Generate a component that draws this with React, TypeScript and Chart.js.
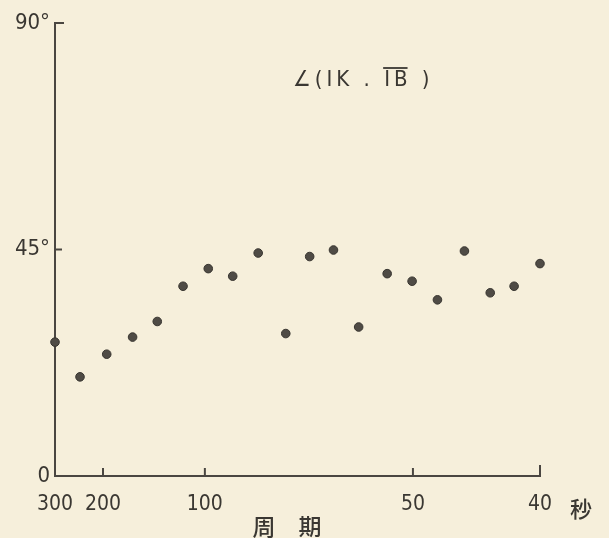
import React, { useEffect, useRef } from 'react';
import { Chart, registerables, LinearScale } from 'chart.js';

Chart.register(...registerables);

// Period of each point (seconds) and angle ∠(IK, B̄) in degrees
const PERIODS = [300, 238, 193, 155, 130.5, 112, 98.4, 88.2, 79.6, 72.0, 66.5, 61.8, 57.5, 53.3, 50.1, 47.7, 45.4, 43.4, 41.7, 40.0];
const ANGLES = [26.6, 19.7, 24.2, 27.6, 30.7, 37.7, 41.2, 39.7, 44.3, 28.3, 43.6, 44.9, 29.6, 40.2, 38.7, 35.0, 44.7, 36.4, 37.7, 42.2];

// Hand-drawn period axis: labelled periods and their share of the axis length
const X_TICK_PERIODS = [300, 200, 100, 50, 40];
const X_TICK_SPACING = [0, 0.099, 0.309, 0.738, 1];
const Y_TICKS = [0, 45, 90];

const TITLE_PREFIX = '∠(IK . ';
const TITLE_BAR = 'IB';
const TITLE_SUFFIX = ' )';
const X_TITLE = '周　期';
const X_UNIT = '秒';

const BG = '#f6efdb';
const INK = '#3a3732';
const AXIS = '#4a4641';
const DOT = '#4f4b45';
const HAND_FONT = '"DejaVu Sans Condensed", "Liberation Sans Narrow", "DejaVu Sans", sans-serif';
const CJK_FONT = '"Noto Sans CJK JP", "Noto Sans CJK SC", sans-serif';

class PeriodScale extends LinearScale {
  static id = 'period';
  static defaults = { ...(LinearScale as any).defaults };

  toDecimal(value: number) {
    const f = 1 / value;
    const n = X_TICK_PERIODS.length;
    for (let i = 0; i < n - 1; i++) {
      const a = 1 / X_TICK_PERIODS[i];
      const b = 1 / X_TICK_PERIODS[i + 1];
      if (f <= b || i === n - 2) {
        const t = (f - a) / (b - a);
        return X_TICK_SPACING[i] + t * (X_TICK_SPACING[i + 1] - X_TICK_SPACING[i]);
      }
    }
    return 0;
  }

  getPixelForValue(value: number) {
    if (value === null || value === undefined) return NaN;
    return (this as any).getPixelForDecimal(this.toDecimal(value));
  }

  getValueForPixel(pixel: number) {
    const d = (this as any).getDecimalForPixel(pixel);
    const n = X_TICK_PERIODS.length;
    for (let i = 0; i < n - 1; i++) {
      if (d <= X_TICK_SPACING[i + 1] || i === n - 2) {
        const t = (d - X_TICK_SPACING[i]) / (X_TICK_SPACING[i + 1] - X_TICK_SPACING[i]);
        const a = 1 / X_TICK_PERIODS[i];
        const b = 1 / X_TICK_PERIODS[i + 1];
        return 1 / (a + t * (b - a));
      }
    }
    return X_TICK_PERIODS[0];
  }
}

Chart.register(PeriodScale as any);

const decorPlugin = {
  id: 'decor',
  afterDraw(chart: any) {
    const { ctx, chartArea } = chart;
    const xs = chart.scales.x;
    const ys = chart.scales.y;
    ctx.save();
    // inward tick marks
    ctx.strokeStyle = AXIS;
    ctx.lineWidth = 2;
    ctx.lineCap = 'butt';
    xs.ticks.forEach((t: any, i: number) => {
      const px = xs.getPixelForValue(t.value);
      if (px - chartArea.left < 3) return;
      const len = i === xs.ticks.length - 1 ? 11 : 8;
      ctx.beginPath();
      ctx.moveTo(px, chartArea.bottom);
      ctx.lineTo(px, chartArea.bottom - len);
      ctx.stroke();
    });
    ys.ticks.forEach((t: any) => {
      if (t.value === 0) return;
      const py = ys.getPixelForValue(t.value);
      const len = t.value === 90 ? 9 : 7;
      ctx.beginPath();
      ctx.moveTo(chartArea.left, py);
      ctx.lineTo(chartArea.left + len, py);
      ctx.stroke();
    });

    // chart title  ∠(IK . IB)
    ctx.fillStyle = INK;
    ctx.font = `22px ${HAND_FONT}`;
    (ctx as any).letterSpacing = '4px';
    ctx.textBaseline = 'middle';
    ctx.textAlign = 'left';
    const tx = chartArea.left + 238;
    const ty = 80;
    ctx.fillText(TITLE_PREFIX + TITLE_BAR + TITLE_SUFFIX, tx, ty);
    const preW = ctx.measureText(TITLE_PREFIX).width;
    const barW = ctx.measureText(TITLE_BAR).width;
    ctx.lineWidth = 1.8;
    ctx.strokeStyle = INK;
    ctx.beginPath();
    ctx.moveTo(tx + preW - 1, ty - 12);
    ctx.lineTo(tx + preW + barW - 4, ty - 12);
    ctx.stroke();
    (ctx as any).letterSpacing = '0px';

    // axis title and unit
    ctx.textAlign = 'center';
    ctx.font = `500 23px ${CJK_FONT}`;
    ctx.fillText(X_TITLE, chartArea.left + 232, 526);
    ctx.font = `500 22px ${CJK_FONT}`;
    ctx.fillText(X_UNIT, chartArea.right + 41, 509);
    ctx.restore();
  },
};

export default function App() {
  const canvasRef = useRef<HTMLCanvasElement | null>(null);

  useEffect(() => {
    if (!canvasRef.current) return;
    const chart = new Chart(canvasRef.current, {
      type: 'scatter',
      data: {
        datasets: [
          {
            data: PERIODS.map((p, i) => ({ x: p, y: ANGLES[i] })),
            backgroundColor: DOT,
            borderColor: '#37342f',
            borderWidth: 1,
            pointRadius: 4.3,
            pointHoverRadius: 4.3,
            clip: false as any,
          },
        ],
      },
      options: {
        animation: false,
        responsive: false,
        maintainAspectRatio: false,
        layout: { padding: { top: 23, right: 69, left: 0, bottom: 0 } },
        plugins: { legend: { display: false }, tooltip: { enabled: false }, title: { display: false } },
        scales: {
          x: {
            type: 'period' as any,
            min: 40,
            max: 300,
            grid: { display: true, drawOnChartArea: false, drawTicks: false },
            border: { display: true, color: AXIS, width: 2 },
            afterBuildTicks: (s: any) => {
              s.ticks = X_TICK_PERIODS.map((v) => ({ value: v }));
            },
            afterFit: (s: any) => {
              s.height = 62;
            },
            ticks: {
              autoSkip: false,
              maxRotation: 0,
              minRotation: 0,
              padding: 16,
              color: INK,
              font: { family: HAND_FONT, size: 21, weight: '500' as any },
              callback: (v: any) => String(v),
            },
          } as any,
          y: {
            type: 'linear',
            min: 0,
            max: 90,
            grid: { display: true, drawOnChartArea: false, drawTicks: false },
            border: { display: true, color: AXIS, width: 2 },
            afterBuildTicks: (s: any) => {
              s.ticks = Y_TICKS.map((v) => ({ value: v }));
            },
            afterFit: (s: any) => {
              s.width = 55;
            },
            ticks: {
              padding: 5,
              color: INK,
              font: { family: HAND_FONT, size: 22, weight: '500' as any },
              callback: (v: any) => (v === 0 ? '0' : `${v}°`),
            },
          },
        },
      },
      plugins: [decorPlugin],
    });
    return () => chart.destroy();
  }, []);

  return (
    <div style={{ position: 'absolute', left: 0, top: 0, width: 609, height: 538, background: BG }}>
      <canvas ref={canvasRef} width={609} height={538} style={{ display: 'block' }} />
    </div>
  );
}
